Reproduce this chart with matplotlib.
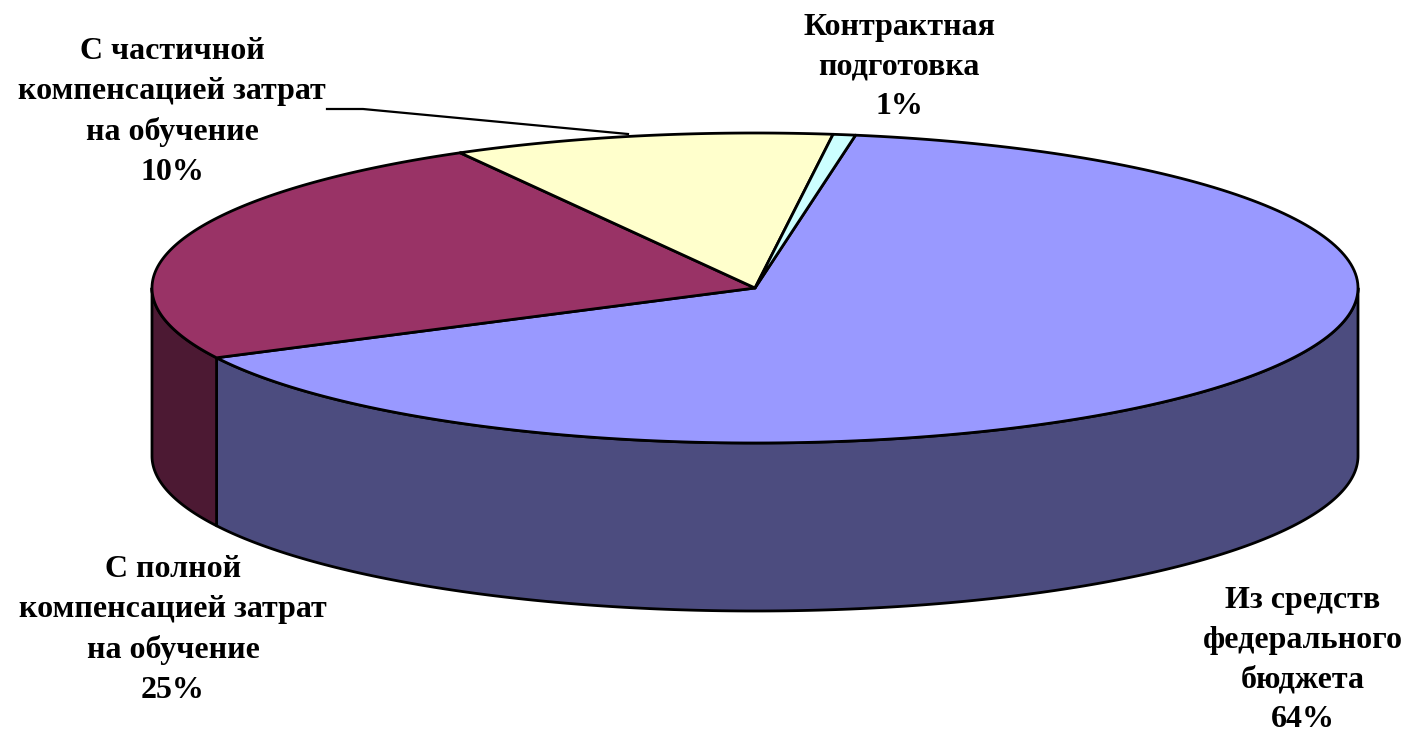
import numpy as np
import matplotlib.pyplot as plt
from matplotlib.patches import Polygon

labels = ['Из средств\nфедерального\nбюджета',
          'С полной\nкомпенсацией затрат\nна обучение',
          'С частичной\nкомпенсацией затрат\nна обучение',
          'Контрактная\nподготовка']
values = [64.9, 24.3, 10.2, 0.6]
pct_text = ['64%', '25%', '10%', '1%']
top_colors = ['#9999FF', '#993366', '#FFFFCC', '#CCFFFF']
side_colors = ['#4C4C7F', '#4C1933', '#7F7F66', '#667F7F']
label_pos = [(1303, 660), (173, 630), (172, 112), (899, 67)]

# pie geometry (pixels)
cx, cy, rx, ry, depth = 755, 288, 603, 155, 168
start = 80.4

fig = plt.figure(figsize=(14.07, 7.31), dpi=100)
ax = fig.add_axes([0, 0, 1, 1])
ax.set_xlim(0, 1407)
ax.set_ylim(731, 0)
ax.axis('off')


def arc(a1, a2, n=200):
    t = np.radians(np.linspace(a1, a2, n))
    return np.column_stack([cx + rx * np.cos(t), cy - ry * np.sin(t)])


bounds = start - np.concatenate([[0], np.cumsum(values)]) / sum(values) * 360

# side walls (front half only)
for i in range(len(values)):
    hi, lo = bounds[i], bounds[i + 1]
    for k in range(-1, 2):
        f_lo, f_hi = -180 - 360 * k, -360 * k
        a, b = max(lo, f_lo), min(hi, f_hi)
        if b - a <= 0:
            continue
        top = arc(b, a)
        bot = top[::-1] + [0, depth]
        ax.add_patch(Polygon(np.vstack([top, bot]), closed=True,
                             facecolor=side_colors[i], edgecolor='black',
                             linewidth=2, joinstyle='round'))

# top faces
for i in range(len(values)):
    pts = np.vstack([[cx, cy], arc(bounds[i], bounds[i + 1])])
    ax.add_patch(Polygon(pts, closed=True, facecolor=top_colors[i],
                         edgecolor='black', linewidth=2, joinstyle='round'))

# labels
for i in range(len(values)):
    ax.text(label_pos[i][0], label_pos[i][1], f'{labels[i]}\n{pct_text[i]}',
            ha='center', va='center', fontsize=23, fontweight='bold',
            family='Liberation Serif', linespacing=1.48)

# leader line for the 10% slice
ax.plot([327, 363, 628], [109, 109, 134], color='black', linewidth=1.6)

fig.savefig('out.png', dpi=100)
